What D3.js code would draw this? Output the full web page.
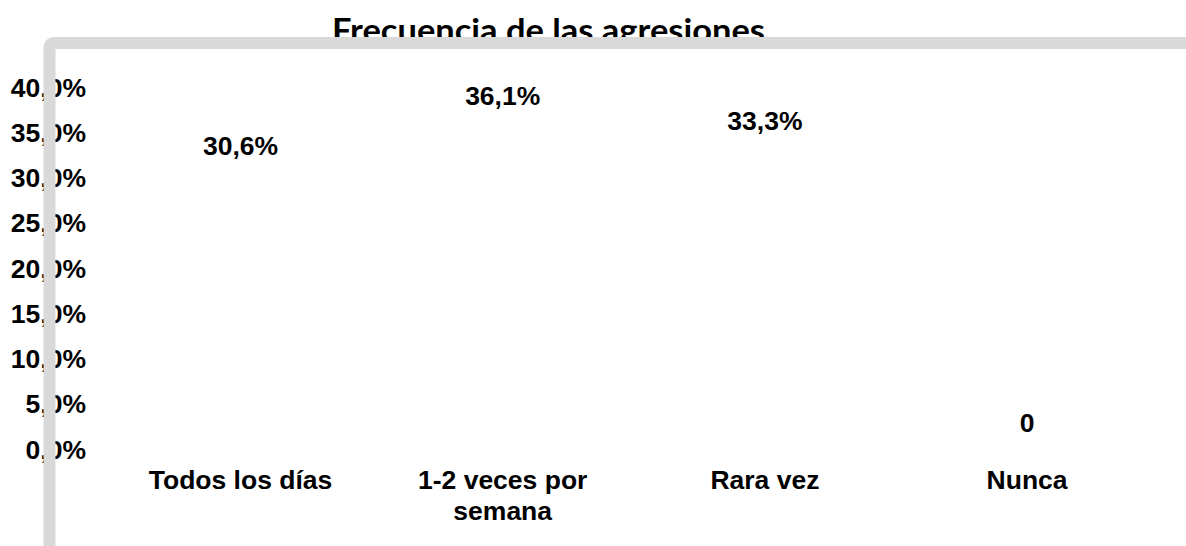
<!DOCTYPE html>
<html>
<head>
<meta charset="utf-8">
<script src="https://cdn.jsdelivr.net/npm/d3@7"></script>
<style>
  body { margin: 0; background: #fff; }
  svg { display: block; }
  .lbl { font-family: 'Liberation Sans', Arial, sans-serif; font-weight: bold; font-size: 26.5px; fill: #000; }
  .title { font-family: Lato, 'Open Sans', sans-serif; font-weight: bold; font-size: 33px; fill: #000; }
</style>
</head>
<body>
<svg id="chart"></svg>
<script>
// chart data
const categories = ['Todos los días', '1-2 veces por semana', 'Rara vez', 'Nunca'];
const values = [30.6, 36.1, 33.3, 0];
const valueLabels = ['30,6%', '36,1%', '33,3%', '0'];
const yTicks = [0, 5, 10, 15, 20, 25, 30, 35, 40];
const title = 'Frecuencia de las agresiones';

const width = 1186,
  height = 546;

let svg = d3
  .select('#chart')
  .attr('width', width)
  .attr('height', height);

let x = d3
  .scaleBand()
  .domain(categories)
  .range([109.4, 1158.2])
  .paddingInner(0.4)
  .paddingOuter(0.2);

let y = d3
  .scaleLinear()
  .domain([0, 40])
  .range([449.3, 87.3]);

// title (partly hidden under the frame, like the original)
svg
  .append('text')
  .classed('title', true)
  .attr('x', 548.5)
  .attr('y', 42)
  .attr('text-anchor', 'middle')
  .attr('textLength', 433)
  .attr('lengthAdjust', 'spacingAndGlyphs')
  .text(title);

// y axis labels only
let yAxis = d3
  .axisLeft(y)
  .tickValues(yTicks)
  .tickSize(0)
  .tickPadding(0)
  .tickFormat(d => d3.format('.1f')(d).replace('.', ',') + '%');

let yg = svg
  .append('g')
  .attr('transform', 'translate(86,0)')
  .call(yAxis);
yg.select('.domain').remove();
yg.selectAll('text')
  .attr('class', 'lbl')
  .attr('dy', '0.33em');
yg.attr('font-size', null).attr('font-family', null);

// bars (white, as in the picture)
svg
  .append('g')
  .selectAll('rect')
  .data(values)
  .enter()
  .append('rect')
  .attr('x', (d, i) => x(categories[i]))
  .attr('y', d => y(d))
  .attr('width', x.bandwidth())
  .attr('height', d => y(0) - y(d))
  .attr('fill', '#ffffff');

// data labels
svg
  .append('g')
  .selectAll('text')
  .data(values)
  .enter()
  .append('text')
  .classed('lbl', true)
  .attr('x', (d, i) => x(categories[i]) + x.bandwidth() / 2)
  .attr('y', d => y(d) - 17.5)
  .attr('text-anchor', 'middle')
  .text((d, i) => valueLabels[i]);

// category labels, wrapped when too wide
let step = x.step();
let cat = svg
  .append('g')
  .selectAll('text')
  .data(categories)
  .enter()
  .append('text')
  .classed('lbl', true)
  .attr('text-anchor', 'middle')
  .attr('x', d => x(d) + x.bandwidth() / 2)
  .attr('y', 488.5);

cat.each(function(d) {
  let t = d3.select(this),
    cx = +t.attr('x'),
    words = d.split(' '),
    line = [],
    tspan = t.append('tspan').attr('x', cx).attr('dy', 0);
  words.forEach(w => {
    line.push(w);
    tspan.text(line.join(' '));
    if (tspan.node().getComputedTextLength() > step * 0.95 && line.length > 1) {
      line.pop();
      tspan.text(line.join(' '));
      line = [w];
      tspan = t
        .append('tspan')
        .attr('x', cx)
        .attr('dy', 31)
        .text(w);
    }
  });
});

// grey frame on top
svg
  .append('rect')
  .attr('x', 49.5)
  .attr('y', 43)
  .attr('width', 1300)
  .attr('height', 700)
  .attr('rx', 4)
  .attr('fill', 'none')
  .attr('stroke', '#d9d9d9')
  .attr('stroke-width', 12);
</script>
</body>
</html>
